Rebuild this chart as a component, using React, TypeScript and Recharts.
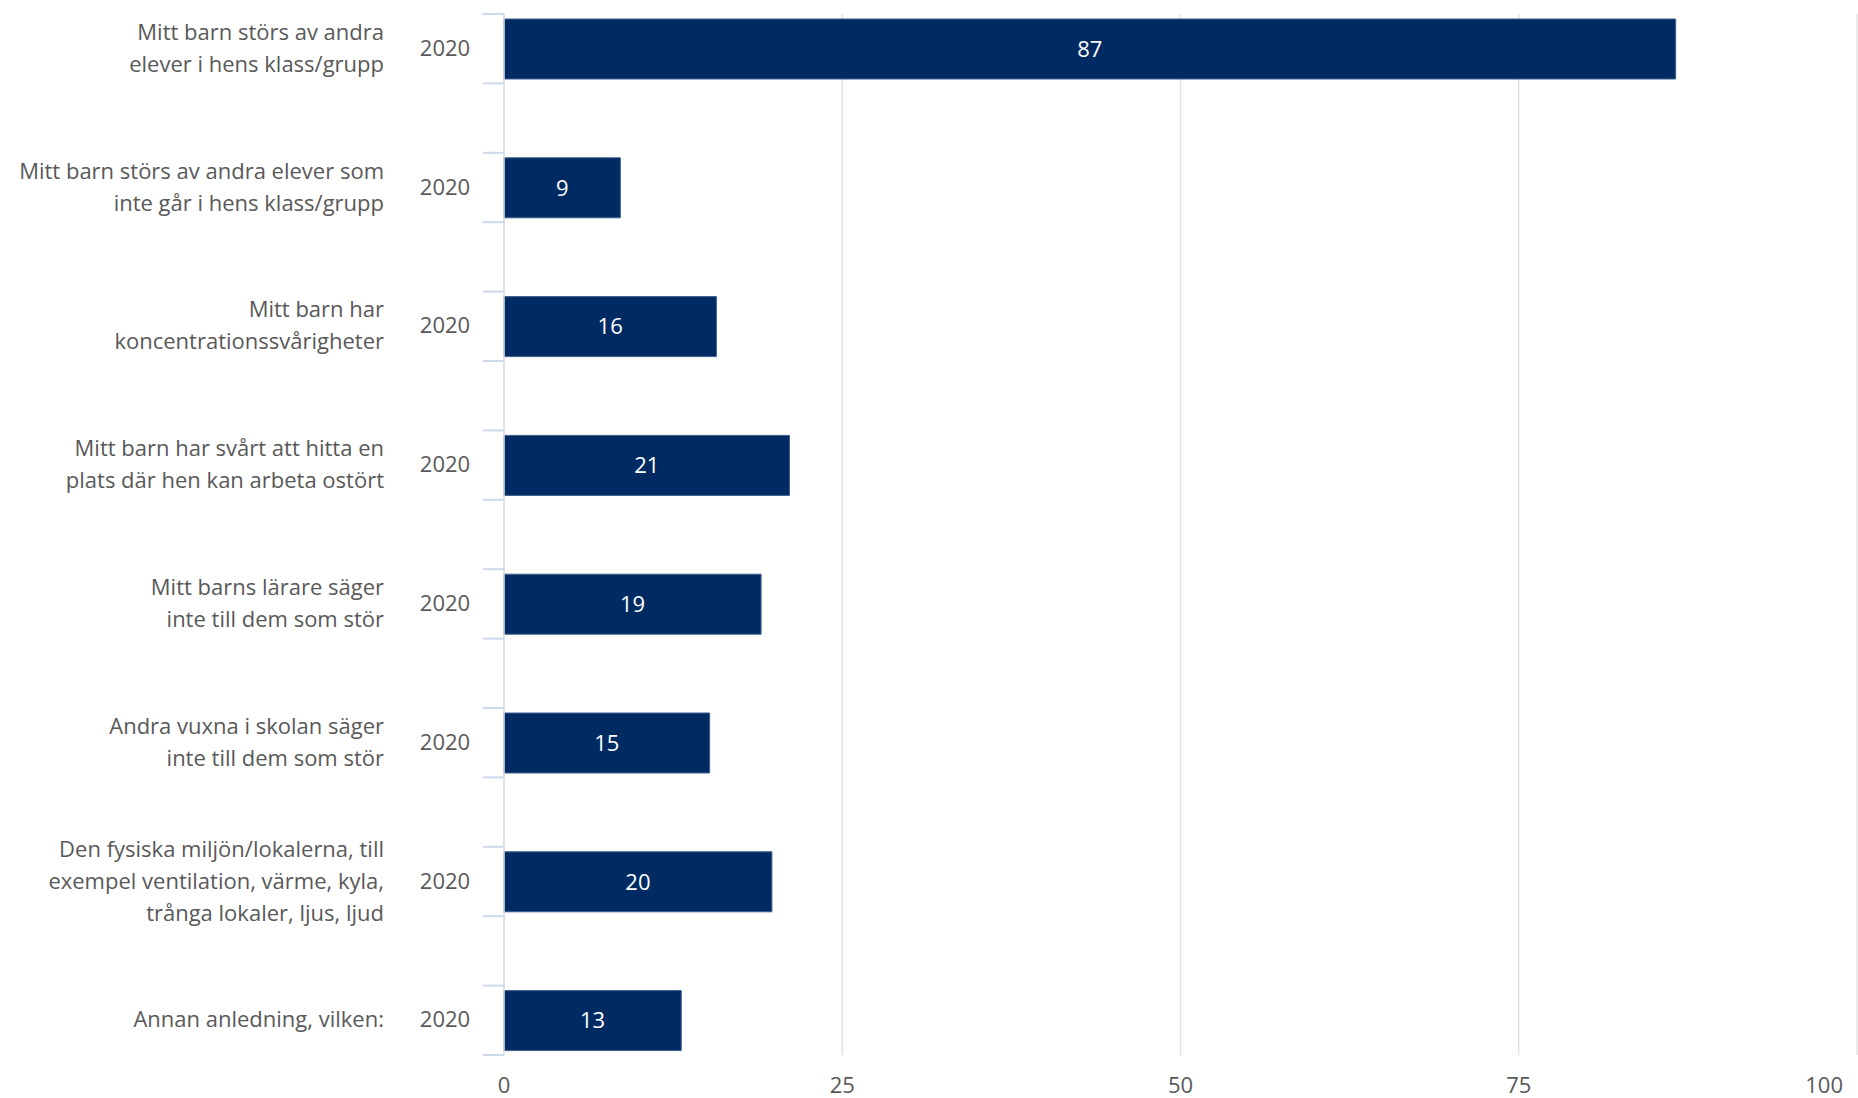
import { BarChart, Bar, XAxis, YAxis, CartesianGrid, LabelList } from 'recharts'

// survey answers, one entry per bar (lines as they wrap in the original)
const categories: string[][] = [
  ['Mitt barn störs av andra', 'elever i hens klass/grupp'],
  ['Mitt barn störs av andra elever som', 'inte går i hens klass/grupp'],
  ['Mitt barn har', 'koncentrationssvårigheter'],
  ['Mitt barn har svårt att hitta en', 'plats där hen kan arbeta ostört'],
  ['Mitt barns lärare säger', 'inte till dem som stör'],
  ['Andra vuxna i skolan säger', 'inte till dem som stör'],
  ['Den fysiska miljön/lokalerna, till', 'exempel ventilation, värme, kyla,', 'trånga lokaler, ljus, ljud'],
  ['Annan anledning, vilken:'],
]
const years = ['2020', '2020', '2020', '2020', '2020', '2020', '2020', '2020']
const values2020 = [86.6, 8.6, 15.7, 21.1, 19.0, 15.2, 19.8, 13.1]
const xTicks = [0, 25, 50, 75, 100]

// a blank slot sits between two answers, like the spacing in the original
const rows: { key: string; cat: number; value: number | null }[] = []
categories.forEach((_, i) => {
  rows.push({ key: 'c' + i, cat: i, value: values2020[i] })
  if (i < categories.length - 1) rows.push({ key: 'gap' + i, cat: -1, value: null })
})

const TEXT = '#595959'
const FONT = '"Open Sans", Lato, sans-serif'
const BAND = 1041 / rows.length

function CategoryTick(props: any) {
  const { x, y, payload } = props
  const row = rows.find(r => r.key === payload.value)
  if (!row || row.cat < 0) return null
  const lines = categories[row.cat]
  const lh = 32
  const top = y - 2 - ((lines.length - 1) * lh) / 2
  return (
    <g>
      <line x1={x - 21} x2={x} y1={y - BAND / 2} y2={y - BAND / 2} stroke="#cdd8ec" strokeWidth={2} />
      <line x1={x - 21} x2={x} y1={y + BAND / 2} y2={y + BAND / 2} stroke="#cdd8ec" strokeWidth={2} />
      <text x={x - 120} y={top} textAnchor="end" fill={TEXT} fontSize={22} fontFamily={FONT} dominantBaseline="central">
        {lines.map((l, i) => (
          <tspan key={i} x={x - 120} y={top + i * lh} dominantBaseline="central">{l}</tspan>
        ))}
      </text>
      <text x={x - 59} y={y - 2} textAnchor="middle" fill={TEXT} fontSize={22} fontFamily={FONT} dominantBaseline="central">
        {years[row.cat]}
      </text>
    </g>
  )
}

function ValueTick(props: any) {
  const { x, y, payload } = props
  const last = payload.value === xTicks[xTicks.length - 1]
  return (
    <text
      x={last ? x - 3 : x}
      y={y + 29}
      textAnchor={last ? 'end' : 'middle'}
      fill={TEXT}
      fontSize={22}
      fontFamily={FONT}
      dominantBaseline="central"
    >
      {payload.value}
    </text>
  )
}

export default function App() {
  return (
    <div style={{ position: 'absolute', left: 0, top: 0, width: 1858, height: 1098, background: '#fff' }}>
      <BarChart
        width={1858}
        height={1098}
        data={rows}
        layout="vertical"
        margin={{ top: 14, right: 1, bottom: 3, left: 0 }}
      >
        <CartesianGrid horizontal={false} stroke="#e3e3e3" strokeWidth={1.5} />
        <XAxis
          type="number"
          domain={[0, 100]}
          ticks={xTicks}
          axisLine={false}
          tickLine={false}
          tickSize={0}
          tickMargin={0}
          height={40}
          tick={<ValueTick />}
        />
        <YAxis
          type="category"
          dataKey="key"
          width={504}
          axisLine={{ stroke: '#d9dce6', strokeWidth: 1.5 }}
          tickLine={false}
          tickSize={0}
          tickMargin={0}
          interval={0}
          tick={<CategoryTick />}
        />
        <Bar dataKey="value" fill="#002b62" stroke="#3f5f8f" strokeWidth={1} barSize={60} isAnimationActive={false}>
          <LabelList
            dataKey="value"
            position="center"
            fill="#ffffff"
            fontSize={22}
            fontFamily={FONT}
            formatter={(v: any) => (v == null ? '' : Math.round(v))}
          />
        </Bar>
      </BarChart>
    </div>
  )
}
